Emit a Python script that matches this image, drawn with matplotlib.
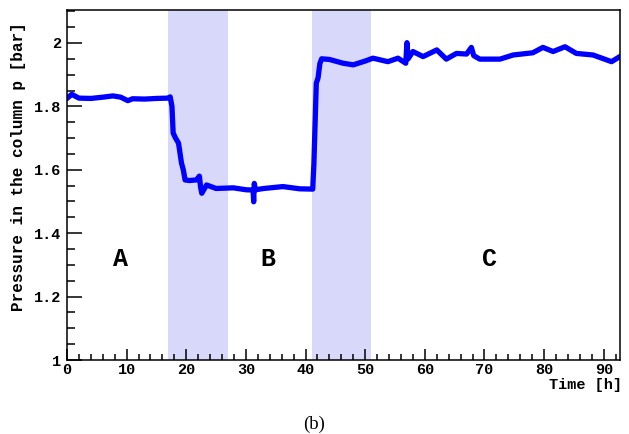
import numpy as np
import matplotlib
matplotlib.use("Agg")
import matplotlib.pyplot as plt
from matplotlib.ticker import MultipleLocator

# pressure readings
time_h = [0.0, 0.8, 2.0, 4.0, 6.0, 7.7, 9.0, 10.2, 11.0, 13.0, 15.0, 17.0, 17.3,
          17.6, 17.8, 18.2, 18.7, 19.2, 19.5, 19.8, 20.5, 21.7, 22.2, 22.4, 22.6,
          23.4, 25.0, 27.9, 30.0, 31.2, 31.3, 31.4, 31.6, 33.0, 36.2, 39.0, 41.2,
          41.4, 41.8, 42.1, 42.4, 42.7, 44.0, 46.3, 48.0, 50.0, 51.3, 53.8, 55.5,
          56.8, 57.0, 57.2, 58.0, 59.7, 62.0, 63.6, 65.3, 67.0, 67.8, 68.2, 69.2,
          72.6, 74.8, 78.1, 79.8, 81.5, 83.5, 85.4, 88.2, 91.3, 92.7]
pressure = [1.825, 1.838, 1.826, 1.825, 1.829, 1.833, 1.829, 1.818, 1.824, 1.823,
            1.825, 1.826, 1.830,
            1.800, 1.716, 1.700, 1.684, 1.621, 1.600, 1.568, 1.566, 1.568, 1.580,
            1.545, 1.526, 1.552, 1.541, 1.543, 1.537, 1.536, 1.499, 1.557, 1.537,
            1.541, 1.547, 1.540, 1.539,
            1.620, 1.873, 1.890, 1.935, 1.950, 1.948, 1.936, 1.931, 1.943, 1.952,
            1.941, 1.952, 1.936, 2.001, 1.950, 1.973, 1.957, 1.978, 1.949, 1.967,
            1.965, 1.986, 1.960, 1.949,
            1.949, 1.962, 1.969, 1.986, 1.973, 1.988, 1.967, 1.962, 1.941, 1.957]

# shaded transition periods and phase labels
bands = [(17.0, 27.0), (41.0, 51.0)]
phase_names = ["A", "B", "C"]
phase_x = [8.9, 33.7, 70.9]
phase_y = 1.32

mono = "Liberation Mono"

fig = plt.figure(figsize=(6.29, 4.34), dpi=100)
ax = fig.add_axes([0.1065, 0.1705, 0.879, 0.8065])

for start, end in bands:
    ax.axvspan(start, end, color="#d8d8fa", lw=0, zorder=0)

ax.plot(time_h, pressure, color="#0000ff", lw=3.8, solid_joinstyle="round",
        solid_capstyle="round", zorder=2)

for name, x in zip(phase_names, phase_x):
    ax.text(x, phase_y, name, fontsize=18, fontweight="bold", family=mono,
            ha="center", va="center")

ax.set_xlim(0, 92.7)
ax.set_ylim(1.0, 2.104)

ax.xaxis.set_major_locator(MultipleLocator(10))
ax.xaxis.set_minor_locator(MultipleLocator(2))
ax.yaxis.set_major_locator(MultipleLocator(0.2))
ax.yaxis.set_minor_locator(MultipleLocator(0.05))
ax.yaxis.set_major_formatter(plt.FuncFormatter(lambda v, p: "%g" % round(v, 2)))

ax.tick_params(axis="both", which="both", direction="in", width=1.1,
               labelsize=11, top=False, right=False)
ax.tick_params(axis="x", which="major", length=8, pad=2)
ax.tick_params(axis="x", which="minor", length=4)
ax.tick_params(axis="y", which="major", length=11, pad=4)
ax.tick_params(axis="y", which="minor", length=5.5)
for lab in ax.get_xticklabels() + ax.get_yticklabels():
    lab.set_family(mono)
    lab.set_fontweight("bold")

for side in ax.spines.values():
    side.set_linewidth(1.1)

ax.set_xlabel("Time [h]", family=mono, fontweight="bold", fontsize=11,
              ha="right", va="center")
ax.xaxis.set_label_coords(1.004, -0.072)
ax.set_ylabel("Pressure in the column p [bar]", family=mono, fontweight="bold",
              fontsize=11.5, ha="center", va="center")
ax.yaxis.set_label_coords(-0.088, 0.553)

fig.text(0.5, 0.023, "(b)", family="Liberation Serif", fontsize=13.5,
         ha="center", va="center")

fig.savefig("out.png", dpi=100)
